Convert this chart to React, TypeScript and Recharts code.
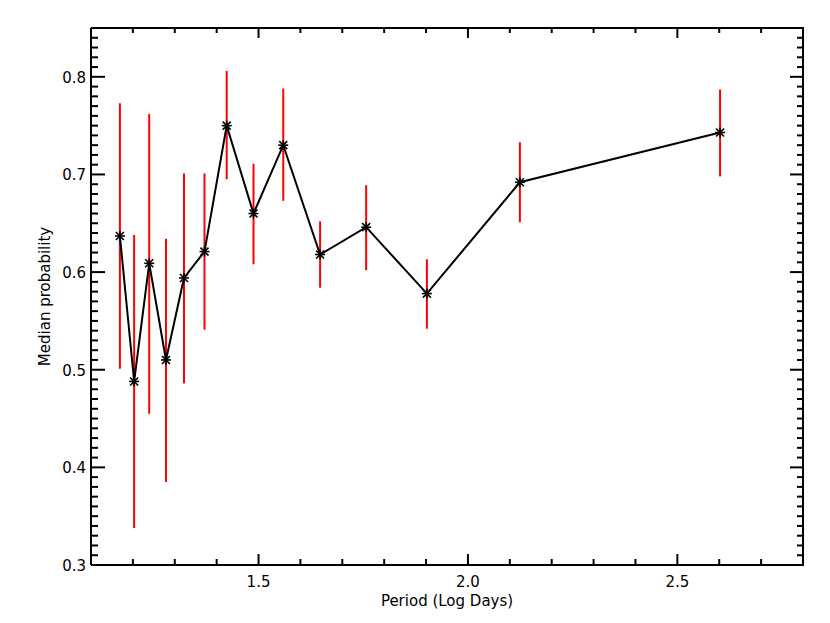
import React from "react";
import { ComposedChart, Line, XAxis, YAxis, ErrorBar } from "recharts";

const periods = [1.169, 1.203, 1.239, 1.279, 1.322, 1.371, 1.424, 1.488, 1.559, 1.647, 1.757, 1.902, 2.124, 2.602];
const medians = [0.637, 0.488, 0.609, 0.510, 0.594, 0.621, 0.750, 0.660, 0.730, 0.618, 0.646, 0.578, 0.692, 0.743];
const upper = [0.773, 0.638, 0.762, 0.634, 0.701, 0.701, 0.806, 0.711, 0.788, 0.652, 0.689, 0.613, 0.733, 0.787];
const lower = [0.501, 0.338, 0.455, 0.385, 0.486, 0.541, 0.695, 0.608, 0.673, 0.584, 0.602, 0.542, 0.651, 0.698];

const xMajorTicks = [1.5, 2.0, 2.5];
const xMajorLabels = ["1.5", "2.0", "2.5"];
const yMajorTicks = [0.3, 0.4, 0.5, 0.6, 0.7, 0.8];
const yMajorLabels = ["0.3", "0.4", "0.5", "0.6", "0.7", "0.8"];
const xDomain = [1.1, 2.8];
const yDomain = [0.3, 0.85];

const xAllTicks: number[] = [];
for (let i = 11; i <= 28; i++) xAllTicks.push(i / 10);
const yAllTicks: number[] = [];
for (let i = 30; i <= 85; i++) yAllTicks.push(i / 100);

const data = periods.map((p, i) => ({
  x: p,
  y: medians[i],
  err: [medians[i] - lower[i], upper[i] - medians[i]],
}));

const FONT = "DejaVu Sans";

const majorIndex = (arr: number[], v: number) => arr.findIndex((m) => Math.abs(m - v) < 1e-6);

const BottomTick = (props: any) => {
  const { x, y, payload } = props;
  const mi = majorIndex(xMajorTicks, payload.value);
  const len = mi >= 0 ? 10 : 5;
  const ay = y - 1;
  return (
    <g>
      <line x1={x} y1={ay} x2={x} y2={ay - len} stroke="#000" strokeWidth={2} />
      {mi >= 0 && (
        <text x={x} y={ay + 23} textAnchor="middle" fontFamily={FONT} fontSize={15} fill="#000">
          {xMajorLabels[mi]}
        </text>
      )}
    </g>
  );
};

const TopTick = (props: any) => {
  const { x, y, payload } = props;
  const mi = majorIndex(xMajorTicks, payload.value);
  const len = mi >= 0 ? 10 : 5;
  return <line x1={x} y1={y} x2={x} y2={y + len} stroke="#000" strokeWidth={2} />;
};

const LeftTick = (props: any) => {
  const { x, y, payload } = props;
  const mi = majorIndex(yMajorTicks, payload.value);
  const len = mi >= 0 ? 14 : 7;
  return (
    <g>
      <line x1={x} y1={y} x2={x + len} y2={y} stroke="#000" strokeWidth={2} />
      {mi >= 0 && (
        <text x={x - 5} y={y + 6} textAnchor="end" fontFamily={FONT} fontSize={15} fill="#000">
          {yMajorLabels[mi]}
        </text>
      )}
    </g>
  );
};

const RightTick = (props: any) => {
  const { x, y, payload } = props;
  const mi = majorIndex(yMajorTicks, payload.value);
  const len = mi >= 0 ? 14 : 7;
  const ax = x + 1;
  return <line x1={ax} y1={y} x2={ax - len} y2={y} stroke="#000" strokeWidth={2} />;
};

const Asterisk = (props: any) => {
  const { cx, cy, index } = props;
  if (cx == null || cy == null) return <g key={`d${index}`} />;
  const r = 5;
  const d = r * 0.8;
  return (
    <g key={`d${index}`} stroke="#000" strokeWidth={1.6}>
      <line x1={cx - d} y1={cy - d} x2={cx + d} y2={cy + d} />
      <line x1={cx - d} y1={cy + d} x2={cx + d} y2={cy - d} />
      <line x1={cx} y1={cy - r} x2={cx} y2={cy + r} />
      <line x1={cx - r} y1={cy} x2={cx + r} y2={cy} />
    </g>
  );
};

export default function App() {
  return (
    <div style={{ width: 830, height: 615, background: "#fff" }}>
      <ComposedChart
        width={822}
        height={607}
        data={data}
        margin={{ top: 19, right: 26, bottom: 49, left: 82 }}
      >
        <XAxis
          dataKey="x"
          type="number"
          domain={xDomain}
          allowDataOverflow
          ticks={xAllTicks}
          interval={0}
          tick={<BottomTick />}
          tickLine={false}
          tickSize={0}
          tickMargin={0}
          axisLine={{ stroke: "#000", strokeWidth: 2 }}
          height={1}
          label={{
            content: (p: any) => {
              const vb = p.viewBox || {};
              return (
                <text
                  x={(vb.x ?? 83) + (vb.width ?? 712) / 2}
                  y={(vb.y ?? 557) + 41}
                  textAnchor="middle"
                  fontFamily={FONT}
                  fontSize={15}
                  fill="#000"
                >
                  Period (Log Days)
                </text>
              );
            },
          }}
        />
        <XAxis
          xAxisId="top"
          orientation="top"
          dataKey="x"
          type="number"
          domain={xDomain}
          allowDataOverflow
          ticks={xAllTicks}
          interval={0}
          tick={<TopTick />}
          tickLine={false}
          tickSize={0}
          tickMargin={0}
          axisLine={{ stroke: "#000", strokeWidth: 2 }}
          height={1}
        />
        <YAxis
          type="number"
          domain={yDomain}
          allowDataOverflow
          ticks={yAllTicks}
          interval={0}
          tick={<LeftTick />}
          tickLine={false}
          tickSize={0}
          tickMargin={0}
          axisLine={{ stroke: "#000", strokeWidth: 2 }}
          width={1}
          label={{
            content: (p: any) => {
              const vb = p.viewBox || {};
              const cy = (vb.y ?? 20) + (vb.height ?? 537) / 2;
              const bx = 42;
              return (
                <text
                  x={bx}
                  y={cy}
                  transform={`rotate(-90 ${bx} ${cy})`}
                  textAnchor="middle"
                  fontFamily={FONT}
                  fontSize={15}
                  fill="#000"
                >
                  Median probability
                </text>
              );
            },
          }}
        />
        <YAxis
          yAxisId="right"
          orientation="right"
          type="number"
          domain={yDomain}
          allowDataOverflow
          ticks={yAllTicks}
          interval={0}
          tick={<RightTick />}
          tickLine={false}
          tickSize={0}
          tickMargin={0}
          axisLine={{ stroke: "#000", strokeWidth: 2 }}
          width={1}
        />
        <Line
          dataKey="y"
          type="linear"
          stroke="#000"
          strokeWidth={2}
          dot={(p: any) => <Asterisk {...p} />}
          activeDot={false}
          isAnimationActive={false}
        >
          <ErrorBar dataKey="err" width={0} stroke="#ff0000" strokeWidth={2} direction="y" isAnimationActive={false} />
        </Line>
      </ComposedChart>
    </div>
  );
}
